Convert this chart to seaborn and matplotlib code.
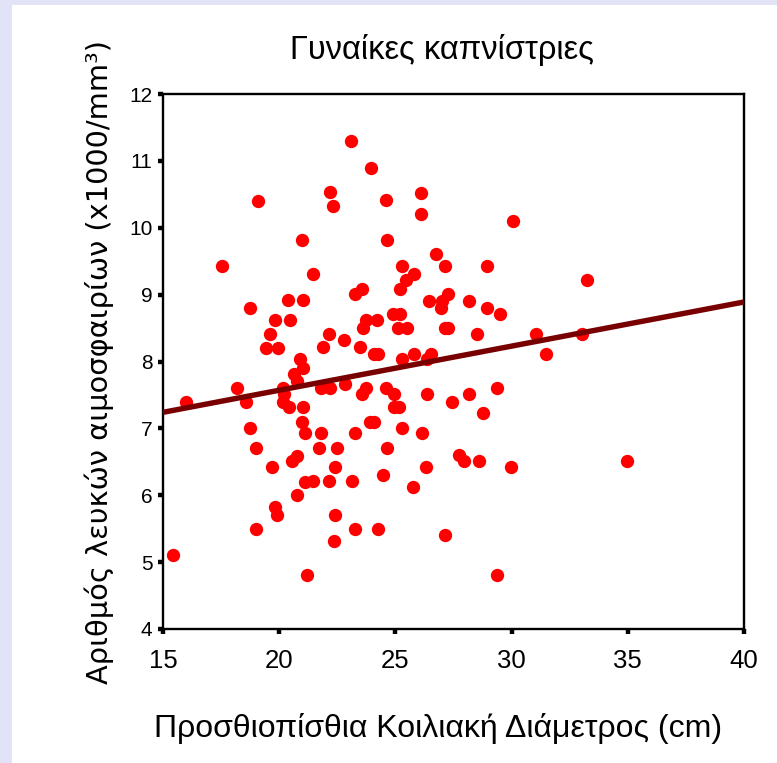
import numpy as np
import pandas as pd
import matplotlib
matplotlib.use("Agg")
import matplotlib.pyplot as plt
import seaborn as sns

# Anterior-posterior abdominal diameter (cm) of female smokers
diameter = [
    23.1, 23.95, 19.1, 22.2, 22.3, 24.6, 26.1, 26.1, 30.07, 24.65,
    21.0, 17.53, 21.47, 26.73, 25.27, 27.15, 28.95, 25.8, 25.44, 25.18,
    33.24, 23.55, 23.26, 27.25, 26.99, 26.46, 26.96, 28.18, 28.95, 29.48,
    24.91, 25.2, 24.22, 23.72, 23.62, 25.12, 25.51, 27.13, 27.28, 28.52,
    31.03, 33.02, 31.47, 22.79, 23.48, 24.1, 24.25, 25.27, 25.8, 26.52,
    26.37, 20.37, 21.04, 18.74, 19.83, 20.45, 19.59, 19.42, 19.93, 22.16,
    21.9, 20.9, 21.04, 20.65, 20.78, 15.99, 18.2, 18.56, 20.18, 20.2,
    20.18, 20.44, 21.04, 20.97, 21.13, 18.74, 18.99, 19.68, 20.54, 20.78,
    21.11, 20.78, 19.82, 19.92, 18.99, 15.44, 21.2, 21.78, 21.73, 22.5,
    22.42, 22.14, 21.47, 22.42, 22.35, 21.8, 22.18, 22.82, 23.55, 23.72,
    24.58, 24.93, 26.37, 24.92, 25.15, 23.92, 24.1, 25.27, 23.28, 26.13,
    24.65, 26.3, 23.12, 24.48, 25.77, 23.28, 24.23, 27.13, 27.45, 28.18,
    29.38, 28.78, 27.75, 27.95, 28.61, 29.97, 34.98, 29.38,
]

# White blood cell count (x1000/mm3)
wbc = [
    11.3, 10.9, 10.4, 10.53, 10.32, 10.41, 10.52, 10.2, 10.1, 9.81,
    9.81, 9.43, 9.31, 9.61, 9.43, 9.43, 9.43, 9.31, 9.22, 9.09,
    9.22, 9.09, 9.01, 9.01, 8.91, 8.91, 8.80, 8.91, 8.80, 8.71,
    8.71, 8.71, 8.62, 8.62, 8.50, 8.50, 8.50, 8.50, 8.50, 8.41,
    8.41, 8.41, 8.11, 8.32, 8.21, 8.11, 8.11, 8.03, 8.11, 8.11,
    8.03, 8.92, 8.92, 8.80, 8.62, 8.62, 8.41, 8.20, 8.20, 8.41,
    8.21, 8.03, 7.91, 7.82, 7.71, 7.40, 7.61, 7.39, 7.61, 7.51,
    7.40, 7.32, 7.32, 7.10, 6.93, 7.01, 6.71, 6.42, 6.51, 6.59,
    6.20, 6.00, 5.83, 5.70, 5.49, 5.11, 4.81, 6.93, 6.71, 6.71,
    6.42, 6.21, 6.21, 5.70, 5.32, 7.61, 7.61, 7.67, 7.52, 7.61,
    7.61, 7.52, 7.52, 7.32, 7.32, 7.10, 7.10, 7.01, 6.93, 6.93,
    6.71, 6.42, 6.21, 6.30, 6.12, 5.49, 5.49, 5.41, 7.40, 7.52,
    7.61, 7.23, 6.60, 6.51, 6.51, 6.42, 6.51, 4.81,
]

# Least-squares fit line, evaluated at the ends of the x range
fit_x = [15, 40]
fit_y = [7.24, 8.89]

x_ticks = [15, 20, 25, 30, 35, 40]
y_ticks = [4, 5, 6, 7, 8, 9, 10, 11, 12]

title = "Γυναίκες καπνίστριες"
x_label = "Προσθιοπίσθια Κοιλιακή Διάμετρος (cm)"
y_label = "Αριθμός λευκών αιμοσφαιρίων (x1000/mm³)"

df = pd.DataFrame({"diameter": diameter, "wbc": wbc})
fit = pd.DataFrame({"diameter": fit_x, "wbc": fit_y})

sns.set_theme(style="white")
narrow = ["Liberation Sans Narrow", "Liberation Sans", "DejaVu Sans"]
plt.rcParams["font.family"] = narrow

fig = plt.figure(figsize=(7.77, 7.63), dpi=100)
fig.patch.set_facecolor("#e3e3f7")

# white page area behind the chart
page = fig.add_axes([12 / 777, 0, 1 - 12 / 777, 1 - 5 / 763], zorder=-5)
page.set_axis_off()
page.add_patch(plt.Rectangle((0, 0), 1, 1, transform=page.transAxes,
                             facecolor="white", edgecolor="none"))

ax = fig.add_axes([163 / 777, 1 - 629 / 763, 581 / 777, 535 / 763])
ax.set_facecolor("white")

sns.scatterplot(data=df, x="diameter", y="wbc", ax=ax, color="#ff0000",
                s=92, linewidth=0, zorder=3)
sns.lineplot(data=fit, x="diameter", y="wbc", ax=ax, color="#780000",
             linewidth=3.9, zorder=4)
ax.lines[-1].set_solid_capstyle("butt")

ax.set_xlim(15, 40)
ax.set_ylim(4, 12)
ax.set_xticks(x_ticks)
ax.set_yticks(y_ticks)
ax.set_xticklabels([str(v) for v in x_ticks], fontsize=18.5)
ax.set_yticklabels([str(v) for v in y_ticks], fontsize=15)
ax.tick_params(axis="both", direction="out", length=3.5, width=3.2,
               color="black", labelcolor="black",
               bottom=True, left=True, top=False, right=False)
ax.tick_params(axis="x", pad=11)
ax.tick_params(axis="y", pad=4)
for sp in ax.spines.values():
    sp.set_visible(True)
    sp.set_color("black")
    sp.set_linewidth(1.7)

ax.set_title(title, fontsize=23.5, color="black", pad=25, x=0.48)
ax.set_xlabel(x_label, fontsize=23, color="black", labelpad=29, x=0.473)
ax.set_ylabel(y_label, fontsize=20.8, color="black", labelpad=11,
              family=["DejaVu Sans"])

fig.savefig("out.png", dpi=100)
